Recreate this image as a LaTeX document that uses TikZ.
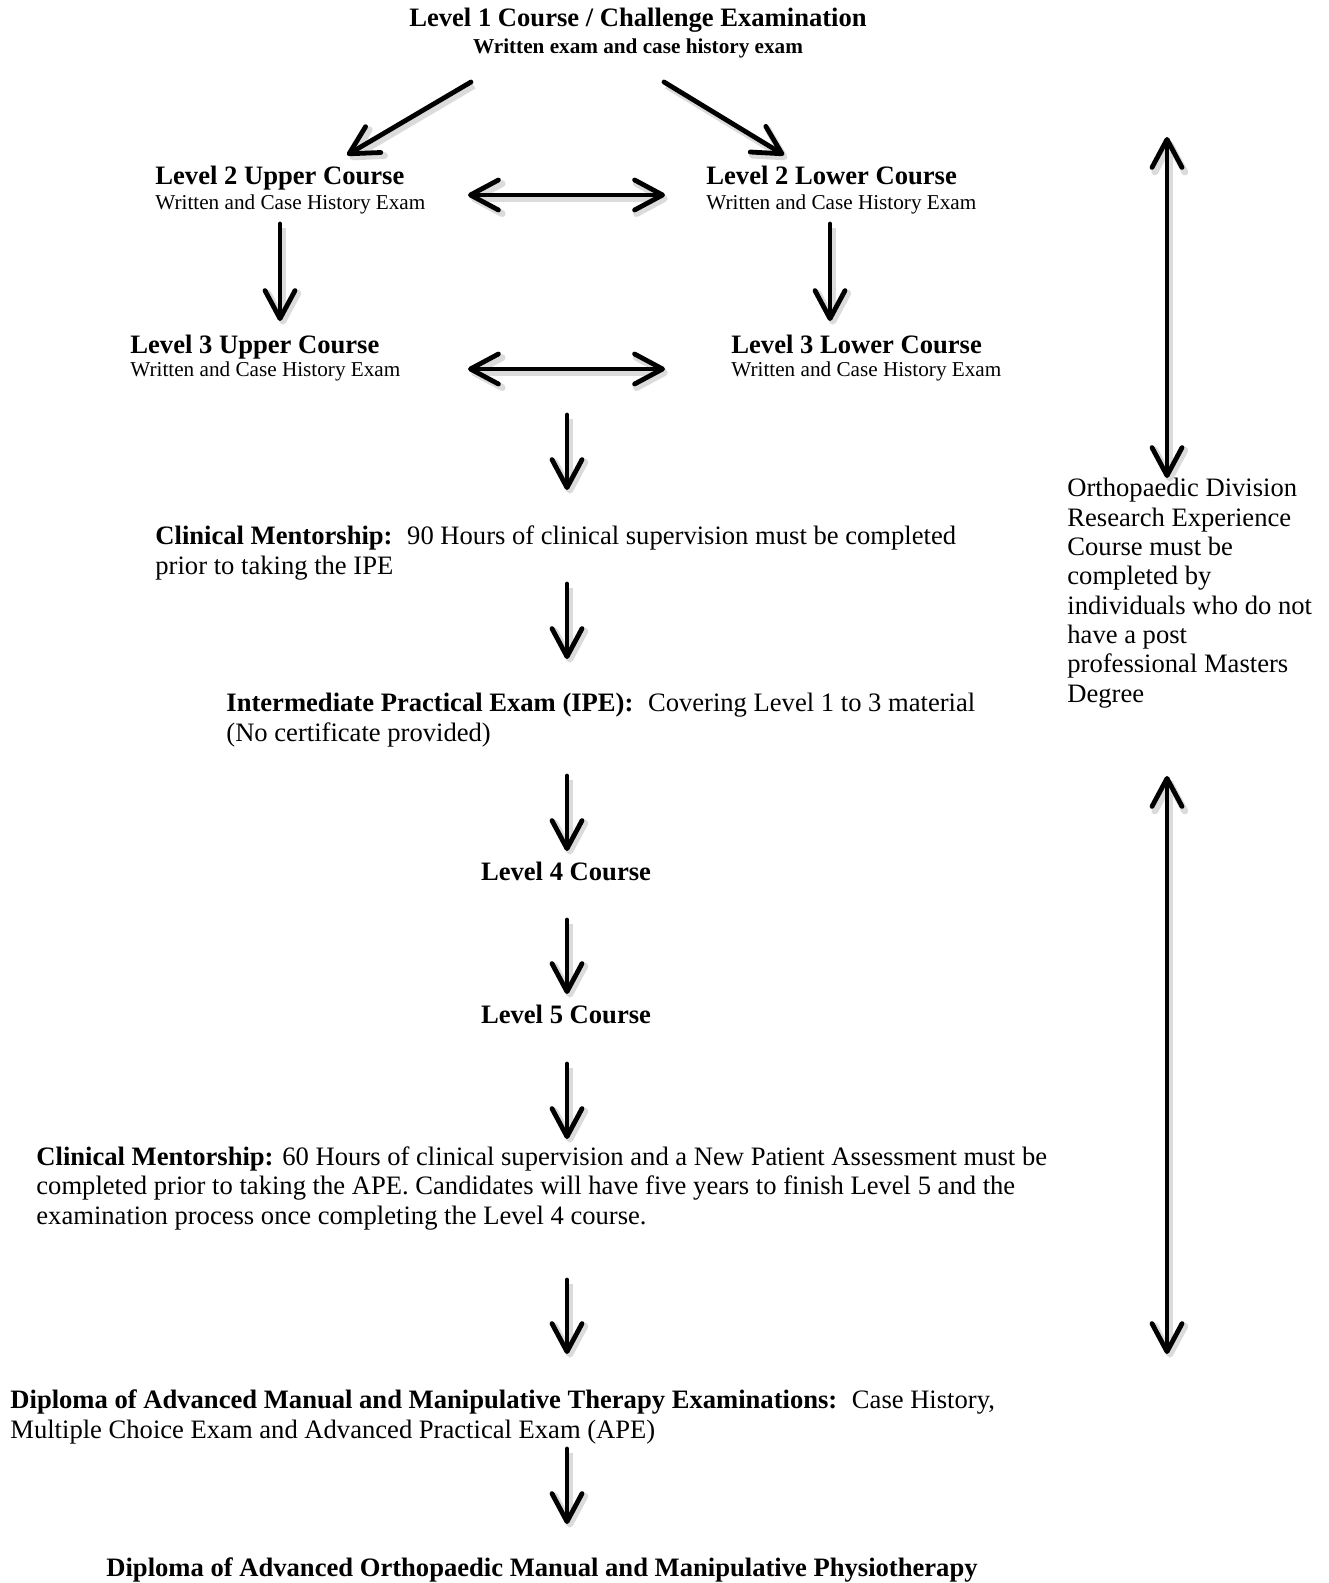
\documentclass[tikz,border=0pt]{standalone}
\usepackage{fontspec}
\setmainfont{Liberation Serif}
\usetikzlibrary{arrows.meta}

\tikzset{
    >={Straight Barb[length=14pt,width=15pt,round]},
    shade line/.style={preaction={draw=black!14, line width=3.4pt,
        transform canvas={shift={(1.4pt,-1.8pt)}}}},
    flow/.style={shade line, line width=2.4pt, line cap=round, ->},
    twoway/.style={shade line, line width=2.4pt, line cap=round, <->},
    txt/.style={anchor=base west, inner sep=0pt, align=left,
        font=\fontsize{13.3}{14.65}\selectfont},
    ctxt/.style={txt, anchor=base, align=center},
}
\newcommand{\subline}[1]{{\fontsize{10.6}{12}\selectfont #1}}

\begin{document}
\begin{tikzpicture}[x=0.5pt, y=-0.5pt]
    \useasboundingbox (0,0) rectangle (1328,1583);

    % text blocks (placed at the baseline of their last line)
    \node[ctxt] (l1) at (638,54) {\textbf{Level 1 Course / Challenge Examination}\\[-1.1pt]
        \subline{\textbf{Written exam and case history exam}}};
    \node[txt] (l2u) at (155,210) {\textbf{Level 2 Upper Course}\\[-2pt]
        \subline{Written and Case History Exam}};
    \node[txt] (l2l) at (706,210) {\textbf{Level 2 Lower Course}\\[-2pt]
        \subline{Written and Case History Exam}};
    \node[txt] (l3u) at (130,376) {\textbf{Level 3 Upper Course}\\[-3.2pt]
        \subline{Written and Case History Exam}};
    \node[txt] (l3l) at (731,376) {\textbf{Level 3 Lower Course}\\[-3.2pt]
        \subline{Written and Case History Exam}};
    \node[txt] (ment1) at (155,574) {\textbf{Clinical Mentorship:}\hspace{0.55em}90 Hours of clinical supervision must be completed\\
        prior to taking the IPE};
    \node[txt] (ipe) at (226,741) {\textbf{Intermediate Practical Exam (IPE):}\hspace{0.55em}Covering Level 1 to 3 material\\
        (No certificate provided)};
    \node[ctxt] (l4) at (566,880) {\textbf{Level 4 Course}};
    \node[ctxt] (l5) at (566,1023) {\textbf{Level 5 Course}};
    \node[txt] (ment2) at (36,1224) {\textbf{Clinical Mentorship:} 60 Hours of clinical supervision and a New Patient Assessment must be\\
        completed prior to taking the APE. Candidates will have five years to finish Level 5 and the\\
        examination process once completing the Level 4 course.};
    \node[txt] (dipexam) at (10,1438) {\textbf{Diploma of Advanced Manual and Manipulative Therapy Examinations:}\hspace{0.55em}Case History,\\
        Multiple Choice Exam and Advanced Practical Exam (APE)};
    \node[ctxt] (dipfinal) at (542,1576) {\textbf{Diploma of Advanced Orthopaedic Manual and Manipulative Physiotherapy}};
    \node[txt] (odrec) at (1067,702) {Orthopaedic Division\\ Research Experience\\ Course must be\\ completed by\\
        individuals who do not\\ have a post\\ professional Masters\\ Degree};

    % arrow ends
    \coordinate (l1a) at (471,82);
    \coordinate (l1b) at (664,82);
    \coordinate (l2ua) at (347,155);
    \coordinate (l2la) at (784,155);
    \coordinate (l2ub) at (468,195);
    \coordinate (l2lb) at (665,195);
    \coordinate (l2uc) at (280,224);
    \coordinate (l3ua) at (280,321);
    \coordinate (l2lc) at (830,224);
    \coordinate (l3la) at (830,321);
    \coordinate (l3ub) at (468,369);
    \coordinate (l3lb) at (665,369);
    \coordinate (m1a) at (567,415);
    \coordinate (m1b) at (567,490);
    \coordinate (ipea) at (567,584);
    \coordinate (ipeb) at (567,659);
    \coordinate (l4a) at (567,776);
    \coordinate (l4b) at (567,851);
    \coordinate (l5a) at (567,920);
    \coordinate (l5b) at (567,994);
    \coordinate (m2a) at (567,1064);
    \coordinate (m2b) at (567,1139);
    \coordinate (dea) at (567,1280);
    \coordinate (deb) at (567,1354);
    \coordinate (dfa) at (567,1449);
    \coordinate (dfb) at (567,1524);
    \coordinate (ra) at (1167,137);
    \coordinate (rb) at (1167,478);
    \coordinate (rc) at (1167,776);
    \coordinate (rd) at (1167,1354);

    \draw[flow] (l1a) -- (l2ua);
    \draw[flow] (l1b) -- (l2la);
    \draw[twoway] (l2ub) -- (l2lb);
    \draw[flow] (l2uc) -- (l3ua);
    \draw[flow] (l2lc) -- (l3la);
    \draw[twoway] (l3ub) -- (l3lb);
    \draw[flow] (m1a) -- (m1b);
    \draw[flow] (ipea) -- (ipeb);
    \draw[flow] (l4a) -- (l4b);
    \draw[flow] (l5a) -- (l5b);
    \draw[flow] (m2a) -- (m2b);
    \draw[flow] (dea) -- (deb);
    \draw[flow] (dfa) -- (dfb);
    \draw[twoway] (ra) -- (rb);
    \draw[twoway] (rc) -- (rd);
\end{tikzpicture}
\end{document}
